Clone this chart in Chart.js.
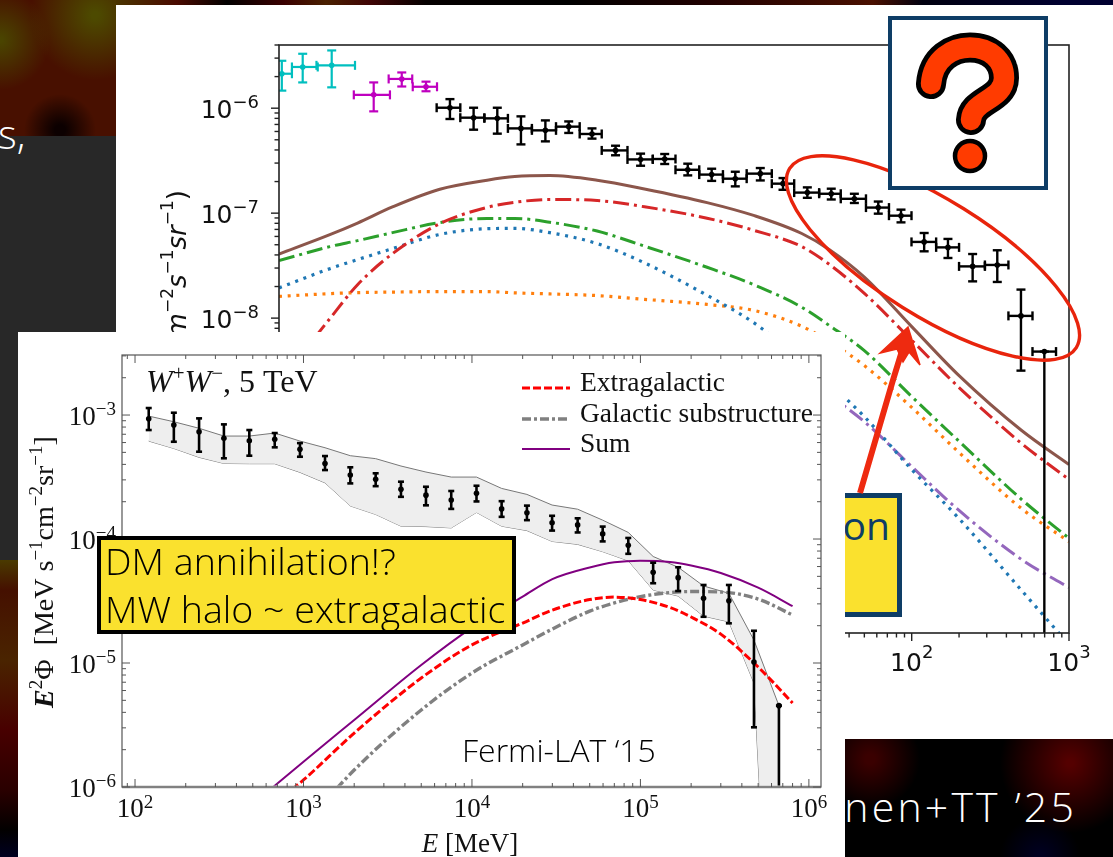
<!DOCTYPE html>
<html>
<head>
<meta charset="utf-8">
<title>Gamma-ray background</title>
<script src="https://cdn.jsdelivr.net/npm/chart.js@4"></script>
<style>
html, body { margin: 0; padding: 0; background: #000; }
#page { position: relative; width: 1113px; height: 857px; overflow: hidden; background: #000; }
#page > * { position: absolute; }
canvas { display: block; }
#stripTop { left: 0; top: 0; width: 1113px; height: 5px;
  background: linear-gradient(90deg, #3a0500 0, #4a4a00 85px, #4a0a00 177px, #020000 227px, #3a0000 284px, #4a2000 326px, #400505 369px, #050000 426px, #000 568px, #200000 710px, #4a1000 873px, #000010 923px, #000030 1065px, #000030 1113px); }
#patchLeft { left: 0; top: 0; width: 116px; height: 136px;
  background:
    radial-gradient(circle 36px at 60px 130px, #0c0000 15%, transparent 100%),
    radial-gradient(circle 65px at 95px 15px, #4d4a00 5%, transparent 100%),
    radial-gradient(circle 50px at 0 40px, #4a4400 5%, transparent 100%),
    #481000; }
#patchGray { left: 0; top: 136px; width: 116px; height: 424px; background: #282828; }
#patchLow { left: 0; top: 560px; width: 18px; height: 297px;
  background: linear-gradient(180deg, #4a3a00 0, #451000 30px, #4a2400 100px, #480000 170px, #2a0000 230px, #020000 270px, #000020 297px); }
#patchRight { left: 845px; top: 739px; width: 268px; height: 118px;
  background:
    radial-gradient(circle 70px at 225px 24px, #540000 5%, transparent 100%),
    radial-gradient(circle 50px at 25px 20px, #3a0000 10%, transparent 100%),
    radial-gradient(circle 40px at 195px 118px, #000020 10%, transparent 100%),
    #000; }
#backPanel { left: 116px; top: 5px; width: 997px; height: 734px; background: #fff; }
#insetPanel { left: 18px; top: 332px; width: 827px; height: 525px; background: #fff; }
.yellow { background: #fae12e; box-sizing: border-box; }
#onBox { left: 700px; top: 493px; width: 202px; height: 124px; border: 5px solid #0e3d66; color: #0e3d66;
  font: 400 39px "Open Sans", sans-serif; text-align: right; padding-right: 7px; line-height: 54px; }
#dmBox { left: 97px; top: 536px; width: 419px; height: 98px; border: 4px solid #000; color: #000;
  font: 300 37.6px "Open Sans", sans-serif; line-height: 48px; padding: 0 0 0 4px; white-space: nowrap; }
#dmBox span { position: relative; top: -3px; }
#fermi { left: 462px; top: 728px; font: 300 32px "Open Sans", sans-serif; color: #000; white-space: nowrap; }
#credit { right: 36px; top: 778px; font: 300 41px "Open Sans", sans-serif; letter-spacing: 3.2px; color: #fff; white-space: nowrap; }
#sComma { left: -2px; top: 106px; font: 300 40px "Open Sans", sans-serif; color: #fff; }
svg { left: 0; top: 0; }
</style>
</head>
<body>
<div id="page">
  <div id="stripTop"></div>
  <div id="patchLeft"></div>
  <div id="patchGray"></div>
  <div id="patchLow"></div>
  <div id="patchRight"></div>
  <div id="sComma">s,</div>
  <div id="credit">nen+TT ’25</div>
  <div id="backPanel"><canvas id="backChart" width="997" height="734"></canvas></div>
  <div id="onBox" class="yellow">on</div>
  <svg width="1113" height="857">
    <!-- arrow -->
    <path d="M860 493 L893 380 L906 338" stroke="#ee2a10" stroke-width="6" fill="none"/>
    <path d="M908 327 L880 353 L897 349 L903 362 L909 352 L920 365 Z" fill="#ee2a10" stroke="#ee2a10" stroke-width="1.5"/>
    <ellipse cx="933" cy="258" rx="169" ry="58" transform="rotate(32 933 258)" fill="none" stroke="#e8240c" stroke-width="3.4"/>
    <!-- question mark box -->
    <rect x="890" y="18" width="156" height="170" fill="#fff" stroke="#0e3d66" stroke-width="4"/>
    <path d="M931 84 C933 58 953 47.5 970 47.5 C990 47.5 1004 60 1004 78 C1004 100 972 100 971 120" fill="none" stroke="#000" stroke-width="30" stroke-linecap="round"/>
    <path d="M931 84 C933 58 953 47.5 970 47.5 C990 47.5 1004 60 1004 78 C1004 100 972 100 971 120" fill="none" stroke="#ff3b00" stroke-width="20.5" stroke-linecap="round"/>
    <circle cx="970" cy="156" r="15" fill="#ff3b00" stroke="#000" stroke-width="4.5"/>
  </svg>
  <div id="insetPanel"><canvas id="insetChart" width="827" height="525"></canvas></div>
  <div id="fermi">Fermi-LAT ‘15</div>
  <div id="dmBox" class="yellow"><span>DM annihilation!?<br>MW halo ~ extragalactic</span></div>
</div>
<script>
// back chart, model curves (GeV, flux)
const modelE = [0.0095, 0.02, 0.03, 0.05, 0.1, 0.2, 0.3, 0.5, 1, 2, 5, 10, 20, 30, 50, 100, 200, 500, 1000];
const totalFlux = [4.08e-8, 6.24e-8, 8.05e-8, 1.146e-7, 1.69e-7, 2.06e-7, 2.23e-7, 2.28e-7, 2.06e-7, 1.70e-7, 1.26e-7, 9.46e-8, 6.40e-8, 4.49e-8, 2.46e-8, 8.30e-9, 2.83e-9, 8.49e-10, 4.03e-10];
const redFlux = [2.38e-9, 9.89e-9, 2.08e-8, 4.11e-8, 7.94e-8, 1.135e-7, 1.27e-7, 1.35e-7, 1.32e-7, 1.15e-7, 8.96e-8, 6.84e-8, 4.80e-8, 3.24e-8, 1.72e-8, 6.16e-9, 2.18e-9, 6.38e-10, 2.90e-10];
const greenFlux = [3.53e-8, 4.80e-8, 5.47e-8, 6.52e-8, 8.13e-8, 8.91e-8, 8.91e-8, 8.20e-8, 6.75e-8, 4.85e-8, 3.05e-8, 2.07e-8, 1.27e-8, 8.49e-9, 4.90e-9, 1.79e-9, 6.71e-10, 1.87e-10, 7.98e-11];
const blueFlux = [1.94e-8, 2.96e-8, 3.61e-8, 4.59e-8, 6.27e-8, 7.11e-8, 7.16e-8, 6.52e-8, 5.13e-8, 3.36e-8, 1.65e-8, 8.95e-9, 3.94e-9, 2.38e-9, 1.15e-9, 3.61e-10, 1.23e-10, 2.54e-11, 7.76e-12];
const orangeFlux = [1.61e-8, 1.71e-8, 1.75e-8, 1.77e-8, 1.79e-8, 1.79e-8, 1.74e-8, 1.70e-8, 1.64e-8, 1.51e-8, 1.35e-8, 1.18e-8, 8.36e-9, 5.97e-9, 3.53e-9, 1.41e-9, 5.24e-10, 1.53e-10, 7.43e-11];
const purpleE = [10, 20, 30, 50, 100, 200, 500, 1000];
const purpleFlux = [5.60e-9, 2.71e-9, 1.83e-9, 1.03e-9, 3.85e-10, 1.47e-10, 5.01e-11, 2.71e-11];

// back chart, measured points
const cyanE = [0.0099, 0.01344, 0.02055];
const cyanLoE = [0.00845, 0.01148, 0.01644];
const cyanHiE = [0.01148, 0.01675, 0.0289];
const cyanY = [2.13e-6, 2.47e-6, 2.56e-6];
const cyanHiY = [2.83e-6, 3.30e-6, 3.55e-6];
const cyanLoY = [1.47e-6, 1.76e-6, 1.58e-6];

const magentaE = [0.0380, 0.0573, 0.0817];
const magentaLoE = [0.0284, 0.0473, 0.0673];
const magentaHiE = [0.0482, 0.0668, 0.0960];
const magentaY = [1.34e-6, 1.90e-6, 1.60e-6];
const magentaHiY = [1.76e-6, 2.19e-6, 1.79e-6];
const magentaLoY = [9.33e-7, 1.61e-6, 1.45e-6];

const blackE = [0.116, 0.164, 0.232, 0.328, 0.469, 0.660, 0.928, 1.31, 1.89, 2.69, 3.77, 5.35, 7.56, 10.9, 15.2, 21.7, 30.8, 43.2, 61.3, 85.5, 120, 170, 244, 350, 495, 697];
const blackLoE = [0.0955, 0.135, 0.192, 0.271, 0.385, 0.548, 0.775, 1.07, 1.56, 2.26, 3.15, 4.46, 6.31, 8.93, 12.9, 17.9, 25.8, 35.4, 51.2, 71.7, 99.7, 143, 200, 292, 412, 586];
const blackHiE = [0.135, 0.192, 0.271, 0.385, 0.548, 0.775, 1.07, 1.56, 2.26, 3.15, 4.46, 6.31, 8.93, 12.9, 17.9, 25.8, 35.4, 51.2, 71.7, 99.7, 143, 200, 292, 412, 586, 827];
const blackY = [1.01e-6, 8.12e-7, 8.0e-7, 6.42e-7, 6.15e-7, 6.67e-7, 5.68e-7, 3.96e-7, 3.25e-7, 3.28e-7, 2.59e-7, 2.33e-7, 2.13e-7, 2.38e-7, 1.91e-7, 1.57e-7, 1.53e-7, 1.37e-7, 1.13e-7, 9.46e-8, 5.32e-8, 4.72e-8, 3.11e-8, 3.21e-8, 1.05e-8, 4.8e-9];
const blackHiY = [1.22e-6, 1.01e-6, 1.01e-6, 8.36e-7, 7.65e-7, 7.48e-7, 6.42e-7, 4.39e-7, 3.69e-7, 3.66e-7, 2.96e-7, 2.65e-7, 2.48e-7, 2.69e-7, 2.16e-7, 1.76e-7, 1.71e-7, 1.53e-7, 1.29e-7, 1.08e-7, 6.47e-8, 5.68e-8, 4.08e-8, 4.43e-8, 1.87e-8, 4.8e-9];
const blackLoY = [7.89e-7, 6.24e-7, 5.72e-7, 4.52e-7, 4.83e-7, 5.81e-7, 5.13e-7, 3.56e-7, 2.83e-7, 2.94e-7, 2.29e-7, 2.03e-7, 1.80e-7, 2.05e-7, 1.67e-7, 1.40e-7, 1.35e-7, 1.25e-7, 9.89e-8, 8.17e-8, 4.33e-8, 3.74e-8, 2.24e-8, 2.21e-8, 3.16e-9, 1e-12];

const backXExps = [-2, -1, 0, 1, 2, 3];
const backYExps = [-11, -10, -9, -8, -7, -6];

// inset, Fermi-LAT points (MeV, E^2 Phi)
const fermiE = [120.6, 170, 240, 337, 477, 675, 953, 1342, 1896, 2682, 3790, 5333, 7534, 10640, 15000, 21200, 29900, 42400, 59700, 84700, 119000, 167500, 237000, 335000, 472000, 664000];
const fermiY = [9.34e-4, 8.31e-4, 7.33e-4, 6.49e-4, 6.21e-4, 6.37e-4, 5.29e-4, 4.07e-4, 3.28e-4, 3.03e-4, 2.52e-4, 2.26e-4, 2.06e-4, 2.34e-4, 1.75e-4, 1.63e-4, 1.35e-4, 1.30e-4, 1.10e-4, 8.89e-5, 5.39e-5, 4.88e-5, 3.33e-5, 3.18e-5, 1.02e-5, 4.53e-6];
const fermiHiY = [1.139e-3, 1.044e-3, 9.40e-4, 8.41e-4, 7.57e-4, 7.16e-4, 5.94e-4, 4.67e-4, 3.79e-4, 3.39e-4, 2.90e-4, 2.64e-4, 2.44e-4, 2.69e-4, 2.02e-4, 1.86e-4, 1.54e-4, 1.47e-4, 1.26e-4, 1.02e-4, 6.44e-5, 5.92e-5, 4.26e-5, 4.26e-5, 1.82e-5, 4.53e-6];
const fermiLoY = [7.57e-4, 6.09e-4, 5.06e-4, 4.48e-4, 4.70e-4, 5.49e-4, 4.61e-4, 3.60e-4, 2.81e-4, 2.67e-4, 2.19e-4, 1.87e-4, 1.75e-4, 2.01e-4, 1.51e-4, 1.42e-4, 1.17e-4, 1.13e-4, 9.57e-5, 7.60e-5, 4.40e-5, 3.81e-5, 2.36e-5, 2.09e-5, 3.03e-6, 1e-9];
const bandUpper = [9.81e-4, 8.83e-4, 7.82e-4, 6.77e-4, 6.77e-4, 7.16e-4, 6.17e-4, 5.45e-4, 4.70e-4, 4.45e-4, 3.88e-4, 3.47e-4, 3.16e-4, 3.16e-4, 2.56e-4, 2.29e-4, 1.88e-4, 1.74e-4, 1.42e-4, 1.13e-4, 7.23e-5, 5.92e-5, 4.18e-5, 3.65e-5, 1.53e-5, 4.53e-6];
const bandLower = [6.17e-4, 5.38e-4, 4.56e-4, 4.07e-4, 4.05e-4, 4.05e-4, 3.45e-4, 2.84e-4, 1.85e-4, 1.58e-4, 1.27e-4, 1.26e-4, 1.23e-4, 1.64e-4, 1.27e-4, 1.17e-4, 9.57e-5, 9.06e-5, 7.91e-5, 6.68e-5, 3.88e-5, 3.47e-5, 2.39e-5, 2.15e-5, 6.90e-6, 1e-9];

// inset, DM model curves
const dmE = [600, 1000, 2000, 5000, 10000, 20000, 30000, 50000, 70000, 100000, 150000, 200000, 300000, 500000, 800000];
const extragalactic = [6.53e-7, 1.14e-6, 2.72e-6, 7.57e-6, 1.40e-5, 2.10e-5, 2.67e-5, 3.25e-5, 3.40e-5, 3.25e-5, 2.80e-5, 2.35e-5, 1.71e-5, 9.28e-6, 4.76e-6];
const substructure = [2.14e-7, 4.84e-7, 1.37e-6, 4.18e-6, 8.30e-6, 1.40e-5, 1.88e-5, 2.62e-5, 3.05e-5, 3.43e-5, 3.70e-5, 3.77e-5, 3.74e-5, 3.28e-5, 2.44e-5];
const dmSum = [8.95e-7, 1.60e-6, 3.47e-6, 9.64e-6, 1.93e-5, 3.43e-5, 4.75e-5, 5.90e-5, 6.49e-5, 6.68e-5, 6.53e-5, 6.11e-5, 5.32e-5, 4.05e-5, 2.88e-5];

const insetXExps = [2, 3, 4, 5, 6];
const insetYExps = [-6, -5, -4, -3];

const SANS = '"DejaVu Sans"';
const SERIF = '"Liberation Serif"';

const pts = (xs, ys) => xs.map((x, i) => ({ x: x, y: ys[i] }));

// text with mixed fonts and raised parts, runs are [text, font, raise]
function richText(ctx, runs, x, y, align, color) {
    ctx.save();
    ctx.fillStyle = color;
    ctx.textAlign = "left";
    ctx.textBaseline = "alphabetic";
    let total = 0;
    runs.forEach(r => { ctx.font = r[1]; total += ctx.measureText(r[0]).width; });
    let cx = align === "right" ? x - total : align === "center" ? x - total / 2 : x;
    runs.forEach(r => {
        ctx.font = r[1];
        ctx.fillText(r[0], cx, y - (r[2] || 0));
        cx += ctx.measureText(r[0]).width;
    });
    ctx.restore();
}

function decadeTicks(scale, cb) {
    const lo = Math.floor(Math.log10(scale.min));
    const hi = Math.ceil(Math.log10(scale.max));
    for (let d = lo; d <= hi; d++) {
        for (let m = 1; m < 10; m++) {
            const v = m * Math.pow(10, d);
            if (v < scale.min * 0.999 || v > scale.max * 1.001) continue;
            cb(scale.getPixelForValue(v), m === 1, d);
        }
    }
}

// frame, log tick marks and 10^n labels
const logAxes = {
    id: "logAxes",
    afterDraw(chart, args, opts) {
        const ctx = chart.ctx;
        const { left, right, top, bottom } = chart.chartArea;
        const sx = chart.scales.x, sy = chart.scales.y;
        ctx.save();
        if (opts.bottomShade) {
            ctx.strokeStyle = opts.bottomShade;
            ctx.lineWidth = 3;
            ctx.beginPath(); ctx.moveTo(left, bottom); ctx.lineTo(right, bottom); ctx.stroke();
        }
        ctx.strokeStyle = opts.color;
        ctx.lineWidth = opts.frameWidth;
        ctx.strokeRect(left, top, right - left, bottom - top);
        ctx.lineWidth = opts.tickWidth;
        const s = opts.inward ? 1 : -1;
        const seg = (a, b, c, d) => { ctx.beginPath(); ctx.moveTo(a, b); ctx.lineTo(c, d); ctx.stroke(); };
        decadeTicks(sx, (px, major) => {
            const len = major ? opts.majorLen : opts.minorLen;
            seg(px, bottom, px, bottom - s * len);
            if (opts.inward) seg(px, top, px, top + len);
        });
        decadeTicks(sy, (py, major) => {
            const len = major ? opts.majorLen : opts.minorLen;
            seg(left, py, left + s * len, py);
            if (opts.inward) seg(right, py, right - len, py);
        });
        ctx.restore();
        opts.xExps.forEach(e => {
            richText(ctx, [["10", opts.baseFont], [String(e), opts.supFont, opts.supRaiseX]], sx.getPixelForValue(Math.pow(10, e)), bottom + opts.xBaseline, "center", opts.textColor);
        });
        opts.yExps.forEach(e => {
            const label = String(e).replace("-", "\u2212");
            richText(ctx, [["10", opts.baseFont], [label, opts.supFont, opts.supRaiseY]], left - opts.yGap, sy.getPixelForValue(Math.pow(10, e)) + opts.yShift, "right", opts.textColor);
        });
    }
};

// error bars from the dataset's errorBars arrays
const errorBars = {
    id: "errorBars",
    afterDatasetsDraw(chart) {
        const ctx = chart.ctx;
        const area = chart.chartArea;
        const sx = chart.scales.x, sy = chart.scales.y;
        ctx.save();
        ctx.beginPath();
        ctx.rect(area.left, area.top, area.right - area.left, area.bottom - area.top);
        ctx.clip();
        chart.data.datasets.forEach(ds => {
            const eb = ds.errorBars;
            if (!eb) return;
            ctx.strokeStyle = ds.pointBackgroundColor;
            ctx.lineWidth = eb.width;
            const seg = (a, b, c, d) => { ctx.beginPath(); ctx.moveTo(a, b); ctx.lineTo(c, d); ctx.stroke(); };
            ds.data.forEach((p, i) => {
                const cx = sx.getPixelForValue(p.x), cy = sy.getPixelForValue(p.y);
                const y1 = sy.getPixelForValue(eb.hiY[i]), y2 = sy.getPixelForValue(eb.loY[i]);
                seg(cx, y1, cx, y2);
                seg(cx - eb.cap, y1, cx + eb.cap, y1);
                seg(cx - eb.cap, y2, cx + eb.cap, y2);
                if (eb.loX) {
                    const x1 = sx.getPixelForValue(eb.loX[i]), x2 = sx.getPixelForValue(eb.hiX[i]);
                    seg(x1, cy, x2, cy);
                    seg(x1, cy - eb.cap, x1, cy + eb.cap);
                    seg(x2, cy - eb.cap, x2, cy + eb.cap);
                }
            });
        });
        ctx.restore();
    }
};

// axis titles, inset legend and annotation
const axisText = {
    id: "axisText",
    afterDraw(chart, args, opts) {
        const ctx = chart.ctx;
        (opts.items || []).forEach(t => {
            ctx.save();
            ctx.translate(t.x, t.y);
            if (t.rotate) ctx.rotate(-Math.PI / 2);
            richText(ctx, t.runs, 0, 0, t.align, "#111");
            ctx.restore();
        });
        chart.data.datasets.forEach(ds => {
            if (!ds.legendAt) return;
            const l = ds.legendAt;
            ctx.save();
            ctx.strokeStyle = ds.borderColor;
            ctx.lineWidth = ds.borderWidth;
            ctx.setLineDash(ds.borderDash || []);
            ctx.beginPath(); ctx.moveTo(l.x0, l.y); ctx.lineTo(l.x1, l.y); ctx.stroke();
            ctx.restore();
            richText(ctx, [[ds.label, opts.legendFont]], l.tx, l.ty, "left", "#111");
        });
    }
};

const curve = (label, xs, ys, color, width, dash) => ({
    label: label, data: pts(xs, ys), borderColor: color, borderWidth: width,
    borderDash: dash || [], pointRadius: 0, fill: false, cubicInterpolationMode: "monotone"
});
const marks = (xs, ys, color, eb) => ({
    data: pts(xs, ys), showLine: false, pointRadius: 2.8, pointBorderWidth: 0,
    pointBackgroundColor: color, errorBars: eb
});

function axisOptions(min, max, side) {
    return {
        type: "logarithmic", min: min, max: max,
        ticks: { display: false },
        grid: { display: false },
        border: { display: false },
        afterFit: s => { if (s.isHorizontal()) s.height = side; else s.width = side; }
    };
}

const DASHDOT = [16, 5, 3, 5];
const DOTTED = [3, 5.7];

new Chart(document.getElementById("backChart"), {
    type: "line",
    plugins: [logAxes, errorBars, axisText],
    data: {
        datasets: [
            marks(blackE, blackY, "#000", { loX: blackLoE, hiX: blackHiE, loY: blackLoY, hiY: blackHiY, cap: 4.5, width: 2.4 }),
            marks(cyanE, cyanY, "#00bfbf", { loX: cyanLoE, hiX: cyanHiE, loY: cyanLoY, hiY: cyanHiY, cap: 4.5, width: 2.2 }),
            marks(magentaE, magentaY, "#bf00bf", { loX: magentaLoE, hiX: magentaHiE, loY: magentaLoY, hiY: magentaHiY, cap: 4.5, width: 2.2 }),
            curve("Total", modelE, totalFlux, "#8c564b", 3),
            curve("Component 1", modelE, redFlux, "#d62728", 3, DASHDOT),
            curve("Component 2", modelE, greenFlux, "#2ca02c", 3, DASHDOT),
            curve("Component 3", modelE, blueFlux, "#1f77b4", 3.2, DOTTED),
            curve("Component 4", modelE, orangeFlux, "#ff7f0e", 3.2, DOTTED),
            curve("Component 5", purpleE, purpleFlux, "#9467bd", 3, DASHDOT)
        ]
    },
    options: {
        responsive: false, animation: false, devicePixelRatio: 1,
        layout: { padding: { top: 40, right: 44, left: 0, bottom: 0 } },
        scales: {
            x: axisOptions(0.0095, 1000, 106),
            y: axisOptions(1e-11, 4e-6, 163)
        },
        plugins: {
            legend: { display: false }, tooltip: { enabled: false },
            logAxes: {
                color: "#222", textColor: "#111", frameWidth: 1.6, tickWidth: 1.4, majorLen: 8, minorLen: 4.5,
                inward: false, xExps: backXExps, yExps: backYExps,
                baseFont: "25px " + SANS, supFont: "18px " + SANS,
                xBaseline: 38, supRaiseX: 13, supRaiseY: 10, yGap: 20, yShift: 10
            },
            axisText: {
                items: [{
                    x: 70, y: 185, rotate: true, align: "right",
                    runs: [["cm", "italic 26px " + SANS], ["\u22122", "17px " + SANS, 13], ["s", "italic 26px " + SANS], ["\u22121", "17px " + SANS, 13], ["sr", "italic 26px " + SANS], ["\u22121", "17px " + SANS, 13], [")", "26px " + SANS]]
                }]
            }
        }
    }
});

new Chart(document.getElementById("insetChart"), {
    type: "line",
    plugins: [logAxes, errorBars, axisText],
    data: {
        datasets: [
            marks(fermiE, fermiY, "#000", { loY: fermiLoY, hiY: fermiHiY, cap: 3, width: 2.6 }),
            curve("Sum", dmE, dmSum, "#800080", 2),
            curve("Extragalactic", dmE, extragalactic, "#ff0000", 3, [8, 3]),
            curve("Galactic substructure", dmE, substructure, "#808080", 3.4, [9, 3, 3, 3]),
            Object.assign(curve("Upper", fermiE, bandUpper, "#777777", 1), { fill: { target: 5 }, backgroundColor: "#eeeeee", cubicInterpolationMode: "default", tension: 0 }),
            Object.assign(curve("Lower", fermiE, bandLower, "#777777", 1), { cubicInterpolationMode: "default", tension: 0 })
        ]
    },
    options: {
        responsive: false, animation: false, devicePixelRatio: 1,
        layout: { padding: { top: 23, right: 24, left: 0, bottom: 0 } },
        scales: {
            x: axisOptions(83.7, 1.18e6, 70),
            y: axisOptions(1e-6, 3.05e-3, 104)
        },
        plugins: {
            legend: { display: false }, tooltip: { enabled: false },
            logAxes: {
                color: "#555", textColor: "#111", frameWidth: 1.2, tickWidth: 1, majorLen: 8, minorLen: 4,
                inward: true, xExps: insetXExps, yExps: insetYExps, bottomShade: "#c4c4c4",
                baseFont: "27px " + SERIF, supFont: "19px " + SERIF,
                xBaseline: 30, supRaiseX: 9, supRaiseY: 10, yGap: 6, yShift: 10
            },
            axisText: {
                legendFont: "27.5px " + SERIF,
                items: [
                    { x: 452, y: 520, align: "center", runs: [["E", "italic 27px " + SERIF], [" [MeV]", "27px " + SERIF]] },
                    { x: 35, y: 376, rotate: true, align: "left", runs: [["E", "italic bold 28px " + SERIF], ["2", "19px " + SERIF, 11], ["\u03a6", "28px " + SERIF], ["  [MeV s", "28px " + SERIF], ["\u22121", "19px " + SERIF, 11], ["cm", "28px " + SERIF], ["\u22122", "19px " + SERIF, 11], ["sr", "28px " + SERIF], ["\u22121", "19px " + SERIF, 11], ["]", "28px " + SERIF]] },
                    { x: 128, y: 60, align: "left", runs: [["W", "italic 32px " + SERIF], ["+", "21px " + SERIF, 12], ["W", "italic 32px " + SERIF], ["\u2212", "21px " + SERIF, 12], [", 5 TeV", "32px " + SERIF]] }
                ]
            }
        }
    }
});

// legend rows of the inset, in the order shown
const insetChart = Chart.getChart("insetChart");
const legendRows = ["Extragalactic", "Galactic substructure", "Sum"];
legendRows.forEach((name, i) => {
    const ds = insetChart.data.datasets.find(d => d.label === name);
    ds.legendAt = { x0: 504, x1: 552, y: [56, 87, 117][i], tx: 562, ty: [59, 90, 120][i] };
});
insetChart.update();
</script>
</body>
</html>
